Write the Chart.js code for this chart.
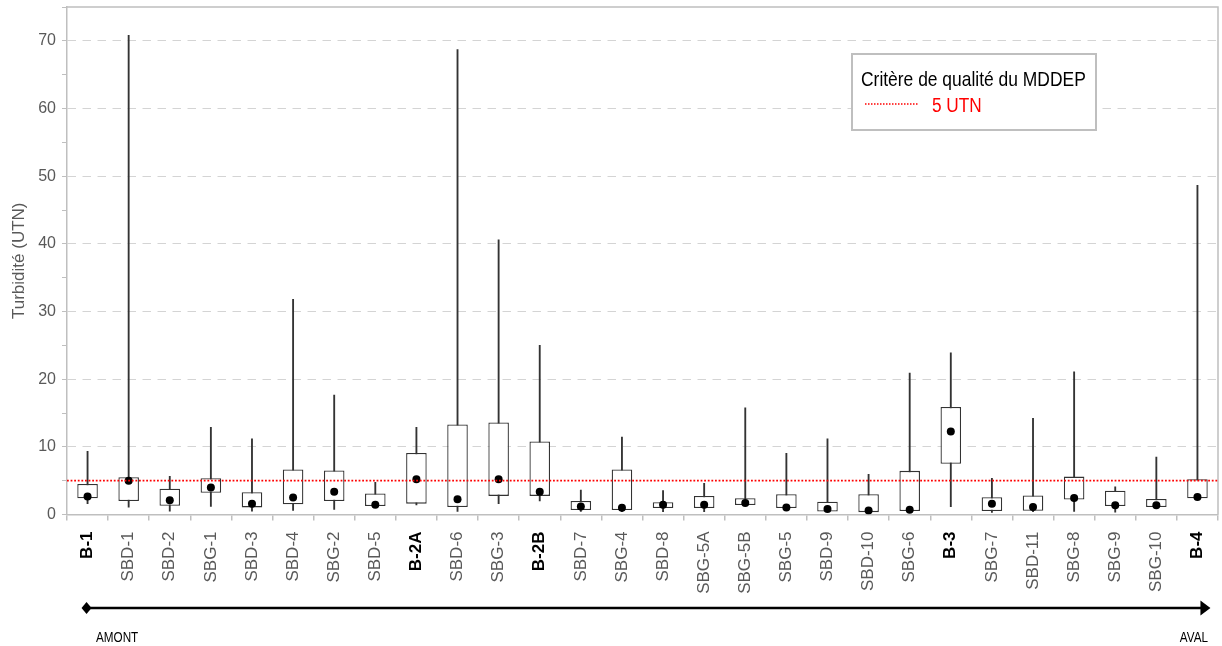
<!DOCTYPE html>
<html lang="fr">
<head>
<meta charset="utf-8">
<title>Turbidité</title>
<script src="https://cdn.jsdelivr.net/npm/chart.js@4.4.1/dist/chart.umd.min.js"></script>
<style>
  html, body { margin: 0; padding: 0; background: #fff; }
  #wrap { width: 1222px; height: 646px; }
</style>
</head>
<body>
<div id="wrap"><canvas id="chartTurbidite" width="1222" height="646"></canvas></div>
<script>
// stations, from upstream (amont) to downstream (aval)
const stations = ['B-1', 'SBD-1', 'SBD-2', 'SBG-1', 'SBD-3', 'SBD-4', 'SBG-2', 'SBD-5', 'B-2A', 'SBD-6',
  'SBG-3', 'B-2B', 'SBD-7', 'SBG-4', 'SBD-8', 'SBG-5A', 'SBG-5B', 'SBG-5', 'SBD-9', 'SBD-10',
  'SBG-6', 'B-3', 'SBG-7', 'SBD-11', 'SBG-8', 'SBG-9', 'SBG-10', 'B-4'];

// turbidity (UTN) per station
const minimum = [1.6, 1.1, 0.5, 1.2, 0.5, 0.6, 0.75, 1.2, 1.4, 0.45,
  1.6, 2.0, 0.45, 0.4, 0.4, 0.4, 1.4, 0.9, 0.4, 0.3,
  0.45, 1.15, 0.3, 0.4, 0.45, 0.35, 1.0, 2.4];
const quartile1 = [2.4, 2.0, 1.3, 3.2, 1.05, 1.5, 2.0, 1.25, 1.6, 1.1,
  2.75, 2.75, 0.65, 0.65, 0.95, 0.95, 1.4, 0.95, 0.45, 0.35,
  0.5, 7.5, 0.5, 0.55, 2.2, 1.25, 1.1, 2.4];
const quartile3 = [4.5, 5.5, 3.8, 5.35, 3.3, 6.65, 6.5, 3.1, 9.1, 13.3,
  13.6, 10.8, 2.0, 6.65, 1.8, 2.75, 2.4, 3.0, 1.9, 3.0,
  6.45, 15.9, 2.55, 2.8, 5.6, 3.5, 2.3, 5.2];
const maximum = [9.35, 70.8, 5.65, 12.9, 11.2, 31.8, 17.65, 4.75, 12.9, 68.7,
  40.6, 25.0, 3.6, 11.45, 3.55, 4.6, 15.75, 9.05, 11.2, 5.95,
  20.9, 23.9, 5.35, 14.2, 21.1, 4.1, 8.5, 48.65];
const mediane = [2.65, 5.0, 2.1, 4.0, 1.6, 2.5, 3.35, 1.45, 5.2, 2.25,
  5.2, 3.35, 1.2, 1.0, 1.45, 1.45, 1.7, 1.05, 0.8, 0.6,
  0.7, 12.25, 1.6, 1.1, 2.45, 1.35, 1.35, 2.6];

// MDDEP quality criterion
const critere = 5;
const critereTitre = 'Critère de qualité du MDDEP';
const critereLabel = '5 UTN';

const FONT = "'Liberation Sans', Arial, sans-serif";
const gray = '#595959';
const axisGray = '#bfbfbf';

function isMain(label) { return /^B-/.test(label); }

// horizontally condensed text (narrow face)
function narrowText(ctx, text, x, y, squeeze) {
  ctx.save();
  ctx.translate(x, y);
  ctx.scale(squeeze, 1);
  ctx.fillText(text, 0, 0);
  ctx.restore();
}

// top / right frame of the plot
const framePlugin = {
  id: 'frame',
  beforeDatasetsDraw(chart) {
    const { ctx, chartArea: a } = chart;
    ctx.save();
    ctx.strokeStyle = axisGray;
    ctx.lineWidth = 1.5;
    ctx.beginPath();
    ctx.moveTo(a.left, a.top);
    ctx.lineTo(a.right, a.top);
    ctx.lineTo(a.right, a.bottom);
    ctx.stroke();
    ctx.restore();
  }
};

// dotted red criterion line across the plot
const criterePlugin = {
  id: 'critere',
  afterDatasetsDraw(chart) {
    const { ctx, chartArea: a, scales } = chart;
    const y = scales.y.getPixelForValue(critere);
    ctx.save();
    ctx.strokeStyle = '#ff0000';
    ctx.lineWidth = 1.8;
    ctx.setLineDash([1.8, 1.8]);
    ctx.beginPath();
    ctx.moveTo(a.left, y);
    ctx.lineTo(a.right, y);
    ctx.stroke();
    ctx.restore();
  }
};

// legend box and the amont -> aval arrow
const annotPlugin = {
  id: 'annot',
  afterDraw(chart) {
    const { ctx, scales } = chart;

    // legend
    ctx.save();
    ctx.fillStyle = '#fff';
    ctx.fillRect(852, 54, 244, 76);
    ctx.strokeStyle = axisGray;
    ctx.lineWidth = 2;
    ctx.strokeRect(852, 54, 244, 76);
    ctx.fillStyle = '#000';
    ctx.font = '21px ' + FONT;
    ctx.textBaseline = 'alphabetic';
    narrowText(ctx, critereTitre, 861, 86, 0.83);
    ctx.strokeStyle = '#ff0000';
    ctx.lineWidth = 1.5;
    ctx.setLineDash([1.5, 1.5]);
    ctx.beginPath();
    ctx.moveTo(865, 104);
    ctx.lineTo(918, 104);
    ctx.stroke();
    ctx.setLineDash([]);
    ctx.fillStyle = '#ff0000';
    ctx.font = '20px ' + FONT;
    narrowText(ctx, critereLabel, 932, 112, 0.86);
    ctx.restore();

    // arrow
    const x0 = scales.x.getPixelForValue(0) - 1;
    const x1 = scales.x.getPixelForValue(stations.length - 1) + 13;
    const y = 608;
    ctx.save();
    ctx.strokeStyle = '#000';
    ctx.fillStyle = '#000';
    ctx.lineWidth = 2.5;
    ctx.beginPath();
    ctx.moveTo(x0, y);
    ctx.lineTo(x1 - 8, y);
    ctx.stroke();
    ctx.beginPath();
    ctx.moveTo(x0 - 5, y);
    ctx.lineTo(x0, y - 6);
    ctx.lineTo(x0 + 5, y);
    ctx.lineTo(x0, y + 6);
    ctx.closePath();
    ctx.fill();
    ctx.beginPath();
    ctx.moveTo(x1, y);
    ctx.lineTo(x1 - 10, y - 7.5);
    ctx.lineTo(x1 - 10, y + 7.5);
    ctx.closePath();
    ctx.fill();
    ctx.font = '15px ' + FONT;
    ctx.textBaseline = 'alphabetic';
    narrowText(ctx, 'AMONT', 96, 642, 0.78);
    const w = ctx.measureText('AVAL').width * 0.78;
    narrowText(ctx, 'AVAL', 1208 - w, 642, 0.78);
    ctx.restore();
  }
};

new Chart(document.getElementById('chartTurbidite'), {
  type: 'bar',
  data: {
    labels: stations,
    datasets: [
      {
        label: 'Médiane',
        type: 'line',
        data: mediane,
        showLine: false,
        pointRadius: 4,
        pointBackgroundColor: '#000',
        pointBorderWidth: 0,
        order: 1
      },
      {
        label: 'Quartiles',
        data: stations.map(function (_, i) { return [quartile1[i], quartile3[i]]; }),
        backgroundColor: '#fff',
        borderColor: '#333',
        borderWidth: 1.3,
        borderSkipped: false,
        barPercentage: 0.5,
        categoryPercentage: 1,
        grouped: false,
        order: 2
      },
      {
        label: 'Min-Max',
        data: stations.map(function (_, i) { return [minimum[i], maximum[i]]; }),
        backgroundColor: '#333',
        borderWidth: 0,
        barThickness: 1.2,
        grouped: false,
        order: 3
      }
    ]
  },
  options: {
    responsive: false,
    animation: false,
    layout: { padding: { top: 7, right: 1, left: 0, bottom: 0 } },
    plugins: { legend: { display: false }, tooltip: { enabled: false } },
    scales: {
      x: {
        afterFit: function (s) {
          s.height = 131.5;
          s.paddingLeft = 0;
          s.paddingRight = 0;
        },
        grid: { drawOnChartArea: false, drawTicks: true, tickLength: 6, color: axisGray, lineWidth: 1.5 },
        border: { display: true, color: axisGray, width: 1.5 },
        ticks: {
          autoSkip: false,
          minRotation: 90,
          maxRotation: 90,
          padding: 11,
          color: function (c) { return isMain(stations[c.index]) ? '#000' : gray; },
          font: function (c) {
            return { family: FONT, size: 17, weight: isMain(stations[c.index]) ? 'bold' : 'normal' };
          }
        }
      },
      y: {
        min: 0,
        max: 75,
        afterFit: function (s) {
          s.width = 67;
          s.paddingTop = 0;
          s.paddingBottom = 0;
        },
        border: { display: true, color: axisGray, width: 1.5, dash: [8.5, 6.5] },
        grid: {
          drawTicks: true,
          tickLength: 5,
          tickBorderDash: [],
          tickColor: axisGray,
          color: function (c) {
            const v = c.tick && c.tick.value;
            return v > 0 && v < 75 && v % 10 === 0 ? '#d4d4d4' : 'rgba(0,0,0,0)';
          }
        },
        ticks: {
          stepSize: 5,
          padding: 6,
          color: gray,
          font: { family: FONT, size: 16 },
          callback: function (v) { return v % 10 === 0 ? v : ''; }
        },
        title: {
          display: true,
          text: 'Turbidité (UTN)',
          color: gray,
          font: { family: FONT, size: 17 },
          padding: { top: 9, bottom: 0 }
        }
      }
    }
  },
  plugins: [framePlugin, criterePlugin, annotPlugin]
});
</script>
</body>
</html>
